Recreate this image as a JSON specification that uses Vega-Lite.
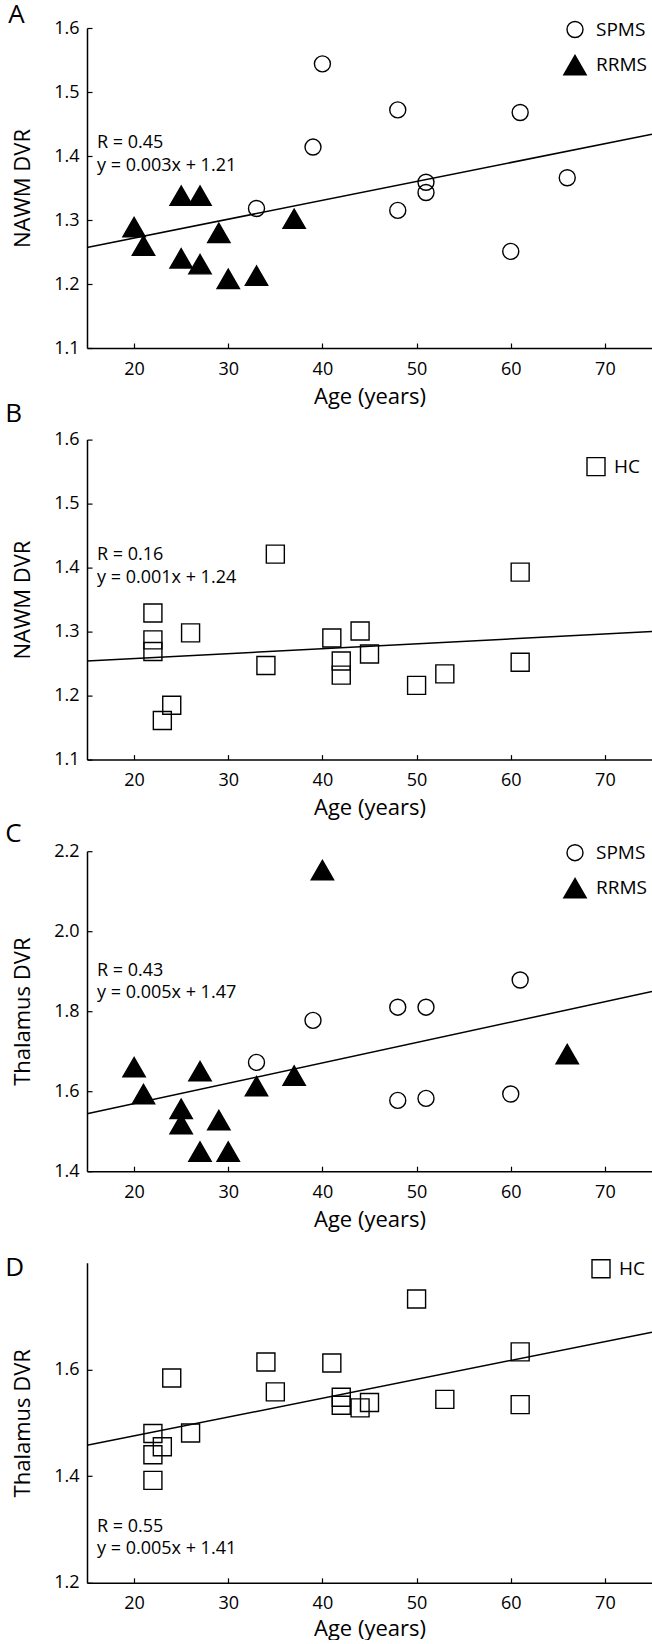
{
  "$schema": "https://vega.github.io/schema/vega-lite/v6.json",
  "padding": {"left": 5, "top": 1, "right": 0, "bottom": 0},
  "background": "white",
  "spacing": 91.6,
  "bounds": "flush",
  "datasets": {
    "ptsA": [
      {"age": 40, "dvr": 1.544, "group": "SPMS"},
      {"age": 48, "dvr": 1.472, "group": "SPMS"},
      {"age": 61, "dvr": 1.468, "group": "SPMS"},
      {"age": 39, "dvr": 1.414, "group": "SPMS"},
      {"age": 51, "dvr": 1.359, "group": "SPMS"},
      {"age": 51, "dvr": 1.343, "group": "SPMS"},
      {"age": 66, "dvr": 1.366, "group": "SPMS"},
      {"age": 33, "dvr": 1.318, "group": "SPMS"},
      {"age": 48, "dvr": 1.315, "group": "SPMS"},
      {"age": 60, "dvr": 1.251, "group": "SPMS"},
      {"age": 25, "dvr": 1.338, "group": "RRMS"},
      {"age": 27, "dvr": 1.338, "group": "RRMS"},
      {"age": 20, "dvr": 1.289, "group": "RRMS"},
      {"age": 21, "dvr": 1.26, "group": "RRMS"},
      {"age": 29, "dvr": 1.28, "group": "RRMS"},
      {"age": 25, "dvr": 1.24, "group": "RRMS"},
      {"age": 27, "dvr": 1.231, "group": "RRMS"},
      {"age": 30, "dvr": 1.208, "group": "RRMS"},
      {"age": 33, "dvr": 1.213, "group": "RRMS"},
      {"age": 37, "dvr": 1.302, "group": "RRMS"}
    ],
    "lineA": [{"age": 15, "dvr": 1.257}, {"age": 75, "dvr": 1.434}],
    "txtA": [
      {"age": 16.06, "dvr": 1.421, "label": "R = 0.45"},
      {"age": 16.06, "dvr": 1.385, "label": "y = 0.003x + 1.21"}
    ],
    "ptsB": [
      {"age": 22, "dvr": 1.329, "group": "HC"},
      {"age": 22, "dvr": 1.287, "group": "HC"},
      {"age": 22, "dvr": 1.269, "group": "HC"},
      {"age": 26, "dvr": 1.298, "group": "HC"},
      {"age": 24, "dvr": 1.185, "group": "HC"},
      {"age": 23, "dvr": 1.161, "group": "HC"},
      {"age": 35, "dvr": 1.421, "group": "HC"},
      {"age": 34, "dvr": 1.247, "group": "HC"},
      {"age": 41, "dvr": 1.29, "group": "HC"},
      {"age": 44, "dvr": 1.301, "group": "HC"},
      {"age": 42, "dvr": 1.254, "group": "HC"},
      {"age": 42, "dvr": 1.232, "group": "HC"},
      {"age": 45, "dvr": 1.265, "group": "HC"},
      {"age": 50, "dvr": 1.216, "group": "HC"},
      {"age": 53, "dvr": 1.234, "group": "HC"},
      {"age": 61, "dvr": 1.393, "group": "HC"},
      {"age": 61, "dvr": 1.252, "group": "HC"}
    ],
    "lineB": [{"age": 15, "dvr": 1.254}, {"age": 75, "dvr": 1.3}],
    "txtB": [
      {"age": 16.06, "dvr": 1.4195, "label": "R = 0.16"},
      {"age": 16.06, "dvr": 1.384, "label": "y = 0.001x + 1.24"}
    ],
    "ptsC": [
      {"age": 61, "dvr": 1.878, "group": "SPMS"},
      {"age": 48, "dvr": 1.81, "group": "SPMS"},
      {"age": 51, "dvr": 1.81, "group": "SPMS"},
      {"age": 39, "dvr": 1.777, "group": "SPMS"},
      {"age": 33, "dvr": 1.672, "group": "SPMS"},
      {"age": 48, "dvr": 1.577, "group": "SPMS"},
      {"age": 51, "dvr": 1.582, "group": "SPMS"},
      {"age": 60, "dvr": 1.593, "group": "SPMS"},
      {"age": 40, "dvr": 2.153, "group": "RRMS"},
      {"age": 66, "dvr": 1.693, "group": "RRMS"},
      {"age": 20, "dvr": 1.66, "group": "RRMS"},
      {"age": 27, "dvr": 1.65, "group": "RRMS"},
      {"age": 37, "dvr": 1.639, "group": "RRMS"},
      {"age": 33, "dvr": 1.6125, "group": "RRMS"},
      {"age": 21, "dvr": 1.593, "group": "RRMS"},
      {"age": 25, "dvr": 1.556, "group": "RRMS"},
      {"age": 25, "dvr": 1.518, "group": "RRMS"},
      {"age": 29, "dvr": 1.528, "group": "RRMS"},
      {"age": 27, "dvr": 1.449, "group": "RRMS"},
      {"age": 30, "dvr": 1.449, "group": "RRMS"}
    ],
    "lineC": [{"age": 15, "dvr": 1.5435}, {"age": 75, "dvr": 1.849}],
    "txtC": [
      {"age": 16.06, "dvr": 1.9, "label": "R = 0.43"},
      {"age": 16.06, "dvr": 1.845, "label": "y = 0.005x + 1.47"}
    ],
    "ptsD": [
      {"age": 50, "dvr": 1.732, "group": "HC"},
      {"age": 61, "dvr": 1.633, "group": "HC"},
      {"age": 34, "dvr": 1.614, "group": "HC"},
      {"age": 41, "dvr": 1.612, "group": "HC"},
      {"age": 24, "dvr": 1.584, "group": "HC"},
      {"age": 35, "dvr": 1.558, "group": "HC"},
      {"age": 42, "dvr": 1.548, "group": "HC"},
      {"age": 42, "dvr": 1.533, "group": "HC"},
      {"age": 44, "dvr": 1.528, "group": "HC"},
      {"age": 45, "dvr": 1.538, "group": "HC"},
      {"age": 53, "dvr": 1.544, "group": "HC"},
      {"age": 61, "dvr": 1.534, "group": "HC"},
      {"age": 26, "dvr": 1.481, "group": "HC"},
      {"age": 22, "dvr": 1.48, "group": "HC"},
      {"age": 23, "dvr": 1.455, "group": "HC"},
      {"age": 22, "dvr": 1.44, "group": "HC"},
      {"age": 22, "dvr": 1.392, "group": "HC"}
    ],
    "lineD": [{"age": 15, "dvr": 1.4577}, {"age": 75, "dvr": 1.67}],
    "txtD": [
      {"age": 16.06, "dvr": 1.305, "label": "R = 0.55"},
      {"age": 16.06, "dvr": 1.263, "label": "y = 0.005x + 1.41"}
    ]
  },
  "vconcat": [
    {
      "width": 565, "height": 320,
      "title": {"text": "A", "dx": -78.7, "dy": 12.7},
      "layer": [
        {"data": {"name": "lineA"}, "mark": {"type": "line", "color": "black", "strokeWidth": 1.5},
         "encoding": {
           "x": {"field": "age", "type": "quantitative", "scale": {"domain": [15, 75], "nice": false}, "axis": {"values": [20, 30, 40, 50, 60, 70], "title": "Age (years)"}},
           "y": {"field": "dvr", "type": "quantitative", "scale": {"domain": [1.1, 1.6], "nice": false, "zero": false}, "axis": {"values": [1.1, 1.2, 1.3, 1.4, 1.5, 1.6], "format": ".1f", "title": "NAWM DVR"}}}},
        {"data": {"name": "ptsA"}, "mark": {"type": "point", "strokeWidth": 1.4, "opacity": 1},
         "encoding": {
           "x": {"field": "age", "type": "quantitative"},
           "y": {"field": "dvr", "type": "quantitative"},
           "shape": {"field": "group", "type": "nominal", "scale": {"domain": ["SPMS", "RRMS"], "range": ["circle", "triangle-up"]}, "legend": {"orient": "none", "legendX": 476, "legendY": -8, "title": null, "labelOffset": 9}},
           "fill": {"field": "group", "type": "nominal", "scale": {"domain": ["SPMS", "RRMS"], "range": ["transparent", "black"]}, "legend": {"orient": "none", "legendX": 476, "legendY": -8, "title": null, "labelOffset": 9}},
           "stroke": {"field": "group", "type": "nominal", "scale": {"domain": ["SPMS", "RRMS"], "range": ["black", "black"]}, "legend": {"orient": "none", "legendX": 476, "legendY": -8, "title": null, "labelOffset": 9}},
           "size": {"field": "group", "type": "nominal", "scale": {"domain": ["SPMS", "RRMS"], "range": [256, 500]}, "legend": {"orient": "none", "legendX": 476, "legendY": -8, "title": null, "labelOffset": 9}}}},
        {"data": {"name": "txtA"}, "mark": {"type": "text", "align": "left", "baseline": "middle", "fontSize": 18, "color": "black"},
         "encoding": {"x": {"field": "age", "type": "quantitative"}, "y": {"field": "dvr", "type": "quantitative"}, "text": {"field": "label"}}}
      ]
    },
    {
      "width": 565, "height": 320,
      "title": {"text": "B", "dx": -81.7, "dy": 0.8},
      "layer": [
        {"data": {"name": "lineB"}, "mark": {"type": "line", "color": "black", "strokeWidth": 1.5},
         "encoding": {
           "x": {"field": "age", "type": "quantitative", "scale": {"domain": [15, 75], "nice": false}, "axis": {"values": [20, 30, 40, 50, 60, 70], "title": "Age (years)"}},
           "y": {"field": "dvr", "type": "quantitative", "scale": {"domain": [1.1, 1.6], "nice": false, "zero": false}, "axis": {"values": [1.1, 1.2, 1.3, 1.4, 1.5, 1.6], "format": ".1f", "title": "NAWM DVR"}}}},
        {"data": {"name": "ptsB"}, "mark": {"type": "point", "stroke": "black", "strokeWidth": 1.4, "opacity": 1, "size": 324, "filled": false},
         "encoding": {
           "x": {"field": "age", "type": "quantitative"},
           "y": {"field": "dvr", "type": "quantitative"},
           "shape": {"field": "group", "type": "nominal", "scale": {"domain": ["HC"], "range": ["square"]}, "legend": {"orient": "none", "legendX": 499, "legendY": 17, "title": null, "symbolSize": 324, "labelOffset": 8}}}},
        {"data": {"name": "txtB"}, "mark": {"type": "text", "align": "left", "baseline": "middle", "fontSize": 18, "color": "black"},
         "encoding": {"x": {"field": "age", "type": "quantitative"}, "y": {"field": "dvr", "type": "quantitative"}, "text": {"field": "label"}}}
      ]
    },
    {
      "width": 565, "height": 320,
      "title": {"text": "C", "dx": -81.7, "dy": 9},
      "layer": [
        {"data": {"name": "lineC"}, "mark": {"type": "line", "color": "black", "strokeWidth": 1.5},
         "encoding": {
           "x": {"field": "age", "type": "quantitative", "scale": {"domain": [15, 75], "nice": false}, "axis": {"values": [20, 30, 40, 50, 60, 70], "title": "Age (years)"}},
           "y": {"field": "dvr", "type": "quantitative", "scale": {"domain": [1.4, 2.2], "nice": false, "zero": false}, "axis": {"values": [1.4, 1.6, 1.8, 2.0, 2.2], "format": ".1f", "title": "Thalamus DVR"}}}},
        {"data": {"name": "ptsC"}, "mark": {"type": "point", "strokeWidth": 1.4, "opacity": 1},
         "encoding": {
           "x": {"field": "age", "type": "quantitative"},
           "y": {"field": "dvr", "type": "quantitative"},
           "shape": {"field": "group", "type": "nominal", "scale": {"domain": ["SPMS", "RRMS"], "range": ["circle", "triangle-up"]}, "legend": {"orient": "none", "legendX": 476, "legendY": -8, "title": null, "labelOffset": 9}},
           "fill": {"field": "group", "type": "nominal", "scale": {"domain": ["SPMS", "RRMS"], "range": ["transparent", "black"]}, "legend": {"orient": "none", "legendX": 476, "legendY": -8, "title": null, "labelOffset": 9}},
           "stroke": {"field": "group", "type": "nominal", "scale": {"domain": ["SPMS", "RRMS"], "range": ["black", "black"]}, "legend": {"orient": "none", "legendX": 476, "legendY": -8, "title": null, "labelOffset": 9}},
           "size": {"field": "group", "type": "nominal", "scale": {"domain": ["SPMS", "RRMS"], "range": [256, 500]}, "legend": {"orient": "none", "legendX": 476, "legendY": -8, "title": null, "labelOffset": 9}}}},
        {"data": {"name": "txtC"}, "mark": {"type": "text", "align": "left", "baseline": "middle", "fontSize": 18, "color": "black"},
         "encoding": {"x": {"field": "age", "type": "quantitative"}, "y": {"field": "dvr", "type": "quantitative"}, "text": {"field": "label"}}}
      ]
    },
    {
      "width": 565, "height": 320,
      "title": {"text": "D", "dx": -81.7, "dy": 25.8},
      "layer": [
        {"data": {"name": "lineD"}, "mark": {"type": "line", "color": "black", "strokeWidth": 1.5},
         "encoding": {
           "x": {"field": "age", "type": "quantitative", "scale": {"domain": [15, 75], "nice": false}, "axis": {"values": [20, 30, 40, 50, 60, 70], "title": "Age (years)", "titlePadding": 6}},
           "y": {"field": "dvr", "type": "quantitative", "scale": {"domain": [1.2, 1.8], "nice": false, "zero": false}, "axis": {"values": [1.2, 1.4, 1.6], "format": ".1f", "title": "Thalamus DVR"}}}},
        {"data": {"name": "ptsD"}, "mark": {"type": "point", "stroke": "black", "strokeWidth": 1.4, "opacity": 1, "size": 324, "filled": false},
         "encoding": {
           "x": {"field": "age", "type": "quantitative"},
           "y": {"field": "dvr", "type": "quantitative"},
           "shape": {"field": "group", "type": "nominal", "scale": {"domain": ["HC"], "range": ["square"]}, "legend": {"orient": "none", "legendX": 504, "legendY": -4, "title": null, "symbolSize": 324, "labelOffset": 8}}}},
        {"data": {"name": "txtD"}, "mark": {"type": "text", "align": "left", "baseline": "middle", "fontSize": 18, "color": "black"},
         "encoding": {"x": {"field": "age", "type": "quantitative"}, "y": {"field": "dvr", "type": "quantitative"}, "text": {"field": "label"}}}
      ]
    }
  ],
  "resolve": {
    "scale": {"x": "independent", "y": "independent", "shape": "independent", "fill": "independent", "stroke": "independent", "size": "independent"},
    "legend": {"shape": "independent", "fill": "independent", "stroke": "independent", "size": "independent"}
  },
  "config": {
    "font": "Open Sans",
    "view": {"stroke": null},
    "axis": {
      "domainColor": "black", "domainWidth": 1.5, "tickColor": "black", "tickWidth": 1.2, "tickSize": -5,
      "labelFontSize": 18, "labelColor": "black", "labelFont": "Open Sans",
      "titleFontSize": 22, "titleFontWeight": "normal", "titleColor": "black", "titleFont": "Open Sans",
      "grid": false
    },
    "axisY": {"titlePadding": 19, "labelPadding": 13},
    "axisX": {"titlePadding": 8, "labelPadding": 17},
    "legend": {
      "labelFontSize": 19, "labelColor": "black", "labelFont": "Open Sans", "labelOffset": 11,
      "rowPadding": 11, "symbolStrokeColor": "black", "symbolStrokeWidth": 1.4, "symbolOpacity": 1
    },
    "title": {"anchor": "start", "frame": "group", "offset": 0, "baseline": "alphabetic", "fontSize": 26, "fontWeight": "normal", "color": "black", "font": "Open Sans"}
  }
}
